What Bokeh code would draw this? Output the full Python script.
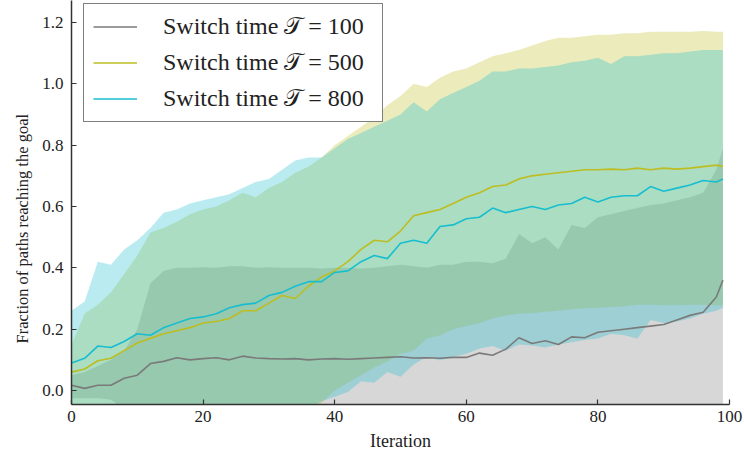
from bokeh.plotting import figure
from bokeh.models import Range1d, FixedTicker, Legend, LegendItem, NumeralTickFormatter, Title
from bokeh.embed import file_html
from bokeh.resources import INLINE

# ---------------- data ----------------
iterations = [0, 2, 4, 6, 8, 10, 12, 14, 16, 18, 20, 22, 24, 26, 28, 30, 32, 34, 36, 38,
              40, 42, 44, 46, 48, 50, 52, 54, 56, 58, 60, 62, 64, 66, 68, 70, 72, 74, 76, 78,
              80, 82, 84, 86, 88, 90, 92, 94, 96, 98, 99]

mean_100 = [0.017, 0.007, 0.017, 0.017, 0.040, 0.050, 0.088, 0.095, 0.107, 0.100, 0.104, 0.107, 0.100,
            0.112, 0.106, 0.104, 0.103, 0.104, 0.100, 0.103, 0.104, 0.102, 0.104, 0.106, 0.108, 0.110,
            0.106, 0.107, 0.105, 0.108, 0.108, 0.122, 0.115, 0.135, 0.172, 0.153, 0.162, 0.150, 0.175,
            0.172, 0.190, 0.195, 0.200, 0.205, 0.210, 0.215, 0.230, 0.245, 0.255, 0.305, 0.360]
upper_100 = [0.05, 0.06, 0.08, 0.10, 0.13, 0.20, 0.35, 0.39, 0.40, 0.40, 0.402, 0.40, 0.405, 0.405,
             0.40, 0.402, 0.40, 0.40, 0.40, 0.398, 0.40, 0.40, 0.398, 0.40, 0.405, 0.41, 0.405, 0.40,
             0.41, 0.41, 0.42, 0.42, 0.415, 0.43, 0.51, 0.48, 0.50, 0.46, 0.54, 0.53, 0.565, 0.575,
             0.585, 0.595, 0.605, 0.61, 0.62, 0.63, 0.645, 0.72, 0.79]
lower_100 = [-0.025, -0.025, -0.025, -0.03, -0.06, -0.10, -0.20, -0.20, -0.20, -0.20, -0.20, -0.20,
             -0.20, -0.20, -0.20, -0.20, -0.20, -0.20, -0.20, -0.20, -0.20, -0.20, -0.20, -0.20,
             -0.20, -0.20, -0.20, -0.20, -0.20, -0.20, -0.20, -0.20, -0.20, -0.20, -0.20, -0.20,
             -0.20, -0.20, -0.20, -0.20, -0.20, -0.20, -0.20, -0.20, -0.20, -0.20, -0.20, -0.15,
             -0.15, -0.10, -0.10]

mean_500 = [0.060, 0.070, 0.097, 0.105, 0.130, 0.155, 0.170, 0.185, 0.195, 0.205, 0.220, 0.225, 0.235,
            0.260, 0.260, 0.285, 0.310, 0.300, 0.340, 0.370, 0.390, 0.420, 0.460, 0.490, 0.485, 0.520,
            0.570, 0.580, 0.590, 0.610, 0.630, 0.645, 0.665, 0.670, 0.690, 0.700, 0.705, 0.710, 0.715,
            0.720, 0.720, 0.722, 0.720, 0.725, 0.720, 0.725, 0.722, 0.725, 0.730, 0.735, 0.730]
upper_500 = [0.15, 0.25, 0.28, 0.32, 0.38, 0.44, 0.515, 0.53, 0.55, 0.575, 0.59, 0.60, 0.62, 0.645,
             0.63, 0.66, 0.68, 0.71, 0.73, 0.76, 0.80, 0.83, 0.86, 0.89, 0.93, 0.96, 1.00, 0.99, 1.02,
             1.04, 1.05, 1.07, 1.09, 1.10, 1.11, 1.125, 1.14, 1.15, 1.15, 1.155, 1.16, 1.16, 1.165,
             1.165, 1.17, 1.17, 1.17, 1.17, 1.172, 1.17, 1.17]
lower_500 = [-0.06, -0.06, -0.06, -0.07, -0.08, -0.10, -0.10, -0.10, -0.10, -0.10, -0.10, -0.10,
             -0.10, -0.10, -0.10, -0.10, -0.10, -0.10, -0.08, -0.04, 0.00, 0.025, 0.05, 0.075,
             0.095, 0.12, 0.13, 0.17, 0.18, 0.20, 0.21, 0.22, 0.235, 0.245, 0.25, 0.252, 0.257,
             0.26, 0.265, 0.268, 0.27, 0.272, 0.275, 0.28, 0.28, 0.278, 0.278, 0.28, 0.28, 0.278, 0.277]

mean_800 = [0.090, 0.105, 0.145, 0.140, 0.160, 0.185, 0.180, 0.205, 0.220, 0.235, 0.240, 0.250, 0.270,
            0.280, 0.285, 0.310, 0.320, 0.340, 0.355, 0.355, 0.385, 0.390, 0.420, 0.440, 0.430, 0.480,
            0.490, 0.480, 0.535, 0.540, 0.560, 0.565, 0.595, 0.580, 0.590, 0.600, 0.590, 0.605, 0.610,
            0.630, 0.615, 0.630, 0.635, 0.635, 0.665, 0.650, 0.660, 0.670, 0.685, 0.680, 0.690]
upper_800 = [0.26, 0.29, 0.42, 0.41, 0.46, 0.49, 0.53, 0.58, 0.59, 0.61, 0.62, 0.63, 0.64, 0.66,
             0.68, 0.69, 0.72, 0.75, 0.76, 0.76, 0.79, 0.82, 0.84, 0.86, 0.88, 0.90, 0.94, 0.91,
             0.95, 0.97, 0.99, 1.01, 1.04, 1.04, 1.05, 1.05, 1.055, 1.06, 1.07, 1.075, 1.085, 1.065,
             1.09, 1.09, 1.095, 1.10, 1.10, 1.105, 1.11, 1.11, 1.11]
lower_800 = [-0.08, -0.10, -0.10, -0.10, -0.10, -0.10, -0.10, -0.10, -0.10, -0.10, -0.10, -0.10,
             -0.10, -0.10, -0.10, -0.10, -0.10, -0.10, -0.06, -0.035, -0.02, -0.005, 0.03, 0.025,
             0.06, 0.045, 0.085, 0.11, 0.098, 0.11, 0.12, 0.137, 0.145, 0.13, 0.15, 0.147, 0.14,
             0.15, 0.157, 0.165, 0.17, 0.185, 0.18, 0.17, 0.23, 0.22, 0.225, 0.235, 0.25, 0.26, 0.27]

labels = ["Switch time \U0001D4AF = 100", "Switch time \U0001D4AF = 500", "Switch time \U0001D4AF = 800"]
x_ticks = [0, 20, 40, 60, 80, 100]
y_ticks = [0.0, 0.2, 0.4, 0.6, 0.8, 1.0, 1.2]

# ---------------- styling ----------------
colors = ["#7a7a7a", "#bcbd22", "#17becf"]
FONT = "Liberation Serif"

p = figure(width=744, height=456, output_backend="svg", toolbar_location=None,
           x_range=Range1d(0, 100), y_range=Range1d(-0.0456, 1.2717),
           min_border_left=71, min_border_right=15, min_border_top=0, min_border_bottom=52)

p.outline_line_color = None
p.xgrid.visible = False
p.ygrid.visible = False
p.background_fill_color = "white"

series = [(mean_100, lower_100, upper_100), (mean_500, lower_500, upper_500), (mean_800, lower_800, upper_800)]
for (m, lo, hi), c in zip(series, colors):
    p.varea(x=iterations, y1=lo, y2=hi, fill_color=c, fill_alpha=0.3)

line_renderers = []
for (m, lo, hi), c in zip(series, colors):
    r = p.line(iterations, m, line_color=c, line_width=1.6)
    line_renderers.append(r)

for ax in (p.xaxis[0], p.yaxis[0]):
    ax.axis_line_color = "#333333"
    ax.axis_line_width = 1.5
    ax.major_tick_line_color = "#333333"
    ax.major_tick_line_width = 1.2
    ax.major_tick_in = 5
    ax.major_tick_out = 0
    ax.minor_tick_line_color = None
    ax.major_label_text_font = FONT
    ax.major_label_text_font_size = "17px"
    ax.major_label_text_color = "#222222"
    ax.axis_label_text_font = FONT
    ax.axis_label_text_font_style = "normal"
    ax.axis_label_text_color = "#222222"

p.xaxis.ticker = FixedTicker(ticks=x_ticks)
p.yaxis.ticker = FixedTicker(ticks=y_ticks)
p.yaxis.formatter = NumeralTickFormatter(format="0.0")
p.xaxis.major_label_standoff = 6
p.yaxis.major_label_standoff = 8
p.xaxis.axis_label = "Iteration"
p.xaxis.axis_label_text_font_size = "18px"
p.xaxis.axis_label_standoff = 6

ytitle = Title(text="Fraction of paths reaching the goal", align="left", offset=61,
               text_font=FONT, text_font_size="16.5px", text_font_style="normal",
               text_color="#222222", standoff=15)
p.add_layout(ytitle, "left")

legend = Legend(items=[LegendItem(label=l, renderers=[r]) for l, r in zip(labels, line_renderers)],
                location=(12, 282))
legend.border_line_color = "black"
legend.border_line_width = 1.5
legend.background_fill_color = "white"
legend.background_fill_alpha = 1.0
legend.padding = 9
legend.spacing = 9
legend.glyph_width = 44
legend.glyph_height = 27
legend.label_height = 27
legend.label_width = 210
legend.label_standoff = 26
legend.label_text_font = FONT
legend.label_text_font_size = "24px"
legend.label_text_color = "#222222"
p.add_layout(legend)

open("out.html", "w").write(file_html(p, INLINE))
